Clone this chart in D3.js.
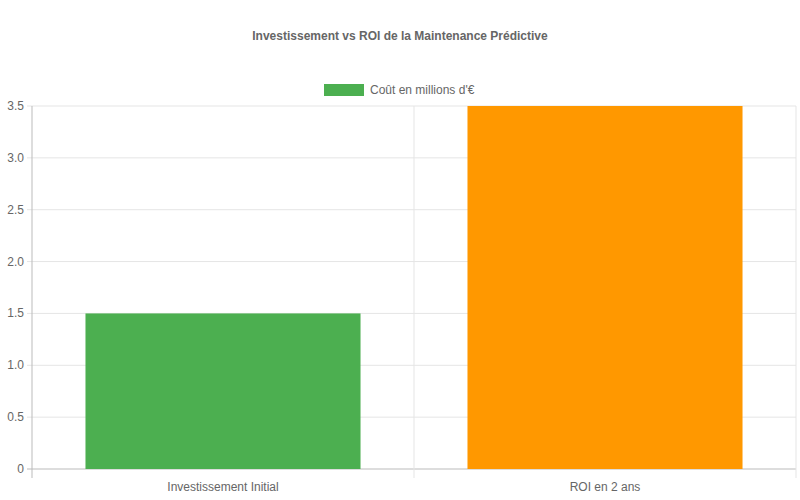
<!DOCTYPE html>
<html><head><meta charset="utf-8">
<script src="https://cdn.jsdelivr.net/npm/d3@7"></script>
<style>body{margin:0;background:#fff}text{font-family:"Liberation Sans",Arial,sans-serif}</style>
</head><body><svg id="c" width="800" height="500"></svg>
<script>
const categories=["Investissement Initial","ROI en 2 ans"];
const values=[1.5,3.5];
const colors=["#4CAF50","#FF9800"];
const yTicks=[0,0.5,1.0,1.5,2.0,2.5,3.0,3.5];
const svg=d3.select("#c");
const L=32,R=796,T=106,B=469;
const x=d3.scaleBand().domain(categories).range([L,R]);
const y=d3.scaleLinear().domain([0,3.5]).range([B,T]);
// grid
yTicks.forEach(t=>{svg.append("line").attr("x1",L-5).attr("x2",R).attr("y1",y(t)).attr("y2",y(t)).attr("stroke",t===0?"#bbb":"#e5e5e5");
svg.append("text").attr("x",L-8).attr("y",y(t)+4).attr("text-anchor","end").attr("font-size",12).attr("fill","#666").text(t===0?"0":t.toFixed(1));});
[L,L+x.bandwidth(),R].forEach((v,i)=>svg.append("line").attr("x1",v).attr("x2",v).attr("y1",T).attr("y2",B+9).attr("stroke",i===0?"#bbb":"#e5e5e5"));
// bars
const bw=x.bandwidth()*0.72;
svg.selectAll("rect.b").data(categories).enter().append("rect")
 .attr("x",d=>x(d)+(x.bandwidth()-bw)/2).attr("width",bw)
 .attr("y",(d,i)=>y(values[i])).attr("height",(d,i)=>B-y(values[i])).attr("fill",(d,i)=>colors[i]);
categories.forEach(c=>svg.append("text").attr("x",x(c)+x.bandwidth()/2).attr("y",491).attr("text-anchor","middle").attr("font-size",12).attr("fill","#666").text(c));
svg.append("text").attr("x",400).attr("y",40).attr("text-anchor","middle").attr("font-size",12).attr("font-weight","bold").attr("fill","#666").text("Investissement vs ROI de la Maintenance Prédictive");
svg.append("rect").attr("x",324).attr("y",84).attr("width",40).attr("height",12).attr("fill",colors[0]);
svg.append("text").attr("x",370).attr("y",94).attr("font-size",12).attr("fill","#666").text("Coût en millions d'€");
</script></body></html>
